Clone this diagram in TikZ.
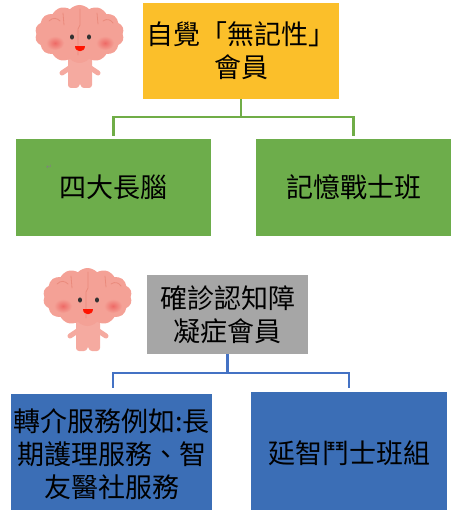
\documentclass[tikz,border=0pt]{standalone}
\usepackage{fontspec}
\newfontfamily\cjk{Noto Sans CJK TC}
\newfontfamily\dejavu{DejaVu Sans}
\usetikzlibrary{shapes.symbols}
\definecolor{orangebox}{HTML}{FBBF2A}
\definecolor{greenbox}{HTML}{6DAD4B}
\definecolor{graybox}{HTML}{A6A6A6}
\definecolor{bluebox}{HTML}{3B6EB6}
\definecolor{greenline}{HTML}{70AD47}
\definecolor{blueline}{HTML}{4472C4}
\definecolor{brainpink}{HTML}{F4A196}
\definecolor{brainfold}{HTML}{EA8A7C}
\definecolor{cheek}{HTML}{EE6A66}
\tikzset{
  box/.style={rectangle, inner sep=0pt, align=center, text=black,
    font=\cjk\fontsize{27}{33}\selectfont},
  gline/.style={draw=greenline, line width=2.5pt},
  bline/.style={draw=blueline, line width=2.5pt},
  brain/.pic={
    \draw[brainpink!90!white, line width=5pt, line cap=round] (34,62) -- (25,68) (52,62) -- (61,68);
    \fill[brainpink!90!white, rounded corners=3pt] (31,50) -- (55,50) -- (55,83) -- (44,83) -- (43,77) -- (42,83) -- (31,83) -- cycle;
    \node[cloud, cloud puffs=14, cloud puff arc=95, aspect=1.55, fill=brainpink, inner sep=0pt,
      minimum width=89pt, minimum height=58pt] at (42.5,29) {};
    \shade[inner color=cheek, outer color=brainpink] (18,38) ellipse (9pt and 7pt);
    \shade[inner color=cheek, outer color=brainpink] (68,38) ellipse (9pt and 7pt);
    \draw[brainfold, line width=0.8pt, line cap=round]
      (43,4) -- (43,20) -- (41,24) -- (41,50)
      (12,16) .. controls (16,12) and (20,13) .. (23,16)
      (26,8) -- (27,20)
      (60,8) -- (61,19)
      (66,16) .. controls (70,13) and (74,15) .. (76,18);
    \fill[black!80] (35,32) ellipse (2pt and 2.6pt) (52,32) ellipse (2pt and 2.6pt);
    \fill[red!85!orange] (38,41) .. controls (38,48) and (48,48) .. (48,41) -- cycle;
  }
}
\begin{document}
\begin{tikzpicture}[x=1pt,y=-1pt]
\useasboundingbox (0,0) rectangle (458,510);
\clip (0,0) rectangle (458,510);
\pic at (37,5) {brain};
\pic at (45,268) {brain};
\node (1) [box, fill=orangebox, minimum width=196pt, minimum height=96pt] at (241,51) {自覺「無記性」\\會員};
\node (2) [box, fill=greenbox, minimum width=195pt, minimum height=97pt] at (113.5,187.5) {四大長腦};
\node (3) [box, fill=greenbox, minimum width=195pt, minimum height=97pt] at (353.5,187.5) {記憶戰士班};
\node (r) [text=gray, font=\dejavu\fontsize{7}{7}\selectfont] at (49,167) {↵};
\node (4) [box, fill=graybox, minimum width=161pt, minimum height=79pt] at (227.5,314.5) {確診認知障\\凝症會員};
\node (5) [box, fill=bluebox, minimum width=201pt, minimum height=120pt] at (111.5,454) {轉介服務例如:長\\期護理服務、智\\友醫社服務};
\node (6) [box, fill=bluebox, minimum width=196pt, minimum height=122pt] at (349,453) {延智鬥士班組};
\draw[gline] (1.south) -- ++(0,18) -| ([yshift=3pt]2.north);
\draw[gline] (1.south) ++(0,18) -| ([yshift=3pt]3.north);
\draw[bline] (4.south) -- ++(0,19) -| ([xshift=1.5pt,yshift=6pt]5.north);
\draw[bline] (4.south) ++(0,19) -| ([yshift=4pt]6.north);
\end{tikzpicture}
\end{document}
